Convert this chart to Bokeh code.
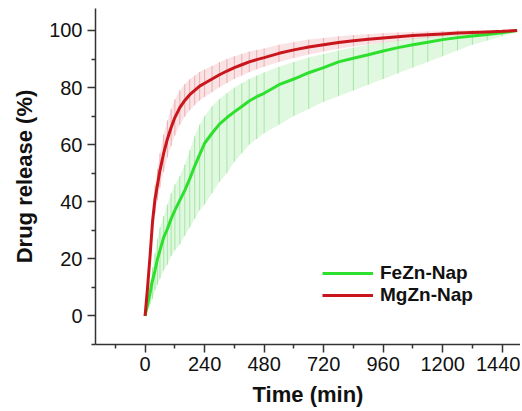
from bokeh.plotting import figure
from bokeh.models import FixedTicker, Legend, LegendItem, ColumnDataSource
from bokeh.embed import file_html
from bokeh.resources import INLINE

# ---- data ----
time_min = [0, 5, 10, 15, 20, 30, 40, 50, 60, 75, 90, 105, 120, 140, 160, 180, 200, 220,
            240, 270, 300, 330, 360, 390, 420, 450, 480, 540, 600, 660, 720, 780, 840,
            900, 960, 1020, 1080, 1140, 1200, 1260, 1320, 1380, 1440, 1500]

mgzn = [0, 5, 10, 15.5, 21, 33, 41, 46, 51, 57, 62, 66, 69.5, 73, 75.5, 77.5, 79, 80.5,
        81.5, 83, 84.5, 85.8, 87, 88, 89, 89.8, 90.5, 92, 93.2, 94.2, 95, 95.8, 96.4,
        96.9, 97.4, 97.8, 98.2, 98.5, 98.8, 99.1, 99.3, 99.5, 99.7, 100]
mgzn_sd = [0, 1, 1.5, 2, 2.5, 4, 5, 5.5, 6, 6.5, 6.5, 6.5, 6.3, 6, 5.7, 5.4, 5.2, 5,
           4.8, 4.6, 4.4, 4.2, 4, 3.8, 3.6, 3.4, 3.2, 3, 2.8, 2.6, 2.4, 2.2, 2,
           1.8, 1.7, 1.5, 1.3, 1.1, 1, 0.9, 0.8, 0.6, 0.5, 0.3]

fezn = [0, 2, 4, 6, 8, 12.5, 16, 20, 23, 27.5, 30.5, 34, 37, 40.5, 44, 48, 52.5, 56.5,
        60.5, 64, 67.2, 69.5, 71.5, 73.4, 75.3, 76.8, 78, 81, 83, 85.2, 87, 89, 90.3,
        91.5, 92.8, 94, 95, 95.9, 96.8, 97.5, 98.1, 98.6, 99.2, 100]
fezn_low = [0, 1, 2, 3, 4, 6, 9, 11, 13, 16, 18, 21, 23, 25, 28, 31, 34, 37,
            39, 43, 47, 50, 54, 57, 60, 62, 64, 67, 70, 72.5, 75, 77, 79,
            81, 83, 85, 87, 89, 91, 93, 95, 96.5, 98, 99.5]
fezn_high = [0, 3, 6, 9, 12, 17, 22, 27, 31, 35, 39, 43, 46, 49, 53, 58, 63, 67,
             70, 73.5, 76, 78, 80, 81.5, 83, 84.2, 85.3, 87.3, 89, 90.5, 91.8, 93, 94,
             95, 95.8, 96.6, 97.3, 97.9, 98.4, 98.9, 99.3, 99.6, 99.8, 100]

x_ticks = [0, 240, 480, 720, 960, 1200, 1440]
y_ticks = [0, 20, 40, 60, 80, 100]
series_names = ["FeZn-Nap", "MgZn-Nap"]

# ---- sources ----
src_fe = ColumnDataSource(dict(t=time_min, v=fezn, lo=fezn_low, hi=fezn_high))
src_mg = ColumnDataSource(dict(t=time_min, v=mgzn,
                               lo=[a - b for a, b in zip(mgzn, mgzn_sd)],
                               hi=[a + b for a, b in zip(mgzn, mgzn_sd)]))

p = figure(width=520, height=409, x_range=(-200, 1514), y_range=(-10, 107.7),
           output_backend="svg", toolbar_location=None,
           min_border_left=95, min_border_right=0, min_border_top=8, min_border_bottom=64)
p.outline_line_color = None
p.xgrid.visible = False
p.ygrid.visible = False
p.background_fill_color = "white"
p.border_fill_color = "white"

GREEN = "#2ee02e"
RED = "#c8161c"

# error bands
p.varea(x="t", y1="lo", y2="hi", source=src_fe, fill_color="#b8f0b8", fill_alpha=0.45)
p.segment(x0="t", y0="lo", x1="t", y1="hi", source=src_fe, line_color="#8fe08f",
          line_alpha=0.7, line_width=1)
p.varea(x="t", y1="lo", y2="hi", source=src_mg, fill_color="#f3c0c4", fill_alpha=0.45)
p.segment(x0="t", y0="lo", x1="t", y1="hi", source=src_mg, line_color="#e8a0a6",
          line_alpha=0.8, line_width=1)

# main curves
l_fe = p.line(x="t", y="v", source=src_fe, line_color=GREEN, line_width=3)
l_mg = p.line(x="t", y="v", source=src_mg, line_color=RED, line_width=3)

# axes
FONT = "Liberation Sans"
for ax in (p.xaxis[0], p.yaxis[0]):
    ax.axis_line_color = "#333333"
    ax.axis_line_width = 1.5
    ax.major_tick_line_color = "#333333"
    ax.minor_tick_line_color = "#333333"
    ax.major_tick_line_width = 1.5
    ax.minor_tick_line_width = 1.5
    ax.major_tick_in = 0
    ax.major_tick_out = 8
    ax.minor_tick_in = 0
    ax.minor_tick_out = 4
    ax.major_label_text_font = FONT
    ax.major_label_text_font_size = "20px"
    ax.major_label_text_color = "#111111"
    ax.axis_label_text_font = FONT
    ax.axis_label_text_font_style = "bold"
    ax.axis_label_text_font_size = "22px"
    ax.axis_label_text_color = "#111111"

p.xaxis.ticker = FixedTicker(ticks=x_ticks, minor_ticks=[t + 120 for t in [-240] + x_ticks])
p.yaxis.ticker = FixedTicker(ticks=y_ticks, minor_ticks=[v + 10 for v in [-20] + y_ticks])
p.xaxis.axis_label = "Time (min)"
p.yaxis.axis_label = "Drug release (%)"
p.xaxis.major_label_standoff = 4
p.xaxis.axis_label_standoff = 8
p.yaxis.major_label_standoff = 5
p.yaxis.axis_label_standoff = 9

legend = Legend(items=[LegendItem(label=series_names[0], renderers=[l_fe]),
                       LegendItem(label=series_names[1], renderers=[l_mg])],
                location=(227, 38), orientation="vertical")
legend.border_line_color = None
legend.background_fill_alpha = 0
legend.padding = 0
legend.margin = 0
legend.spacing = 0
legend.glyph_width = 51
legend.glyph_height = 20
legend.label_height = 20
legend.label_standoff = 7
legend.label_text_font = FONT
legend.label_text_font_style = "bold"
legend.label_text_font_size = "19px"
legend.label_text_color = "#111111"
p.add_layout(legend, "center")

open("out.html", "w").write(file_html(p, INLINE))
